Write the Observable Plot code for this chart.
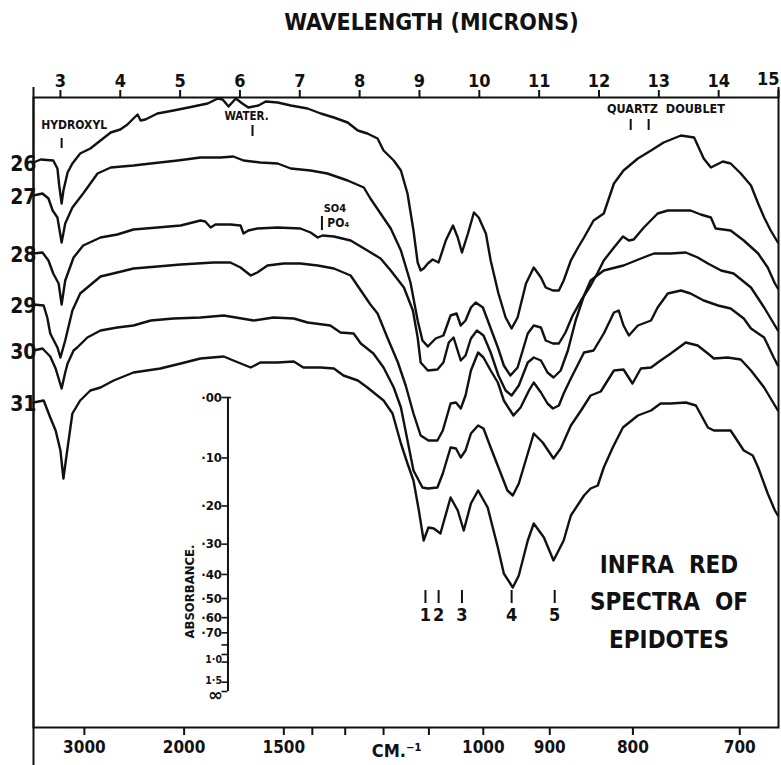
<!DOCTYPE html>
<html><head><meta charset="utf-8">
<script src="https://cdn.jsdelivr.net/npm/d3@7"></script>
<script src="https://cdn.jsdelivr.net/npm/@observablehq/plot@0.6"></script>
<style>
body{margin:0;background:#fff;}
#chart svg{display:block;}
</style></head><body><div id="chart"></div>
<script>
// ---- axis data ----
const wavelengthTicks = [3,4,5,6,7,8,9,10,11,12,13,14,15];
const wavenumberTicks = [3000,2000,1500,1400,1300,1200,1100,1000,900,800,700];
const wavenumberLabels = ["3000","2000","1500","","","","","1000","900","800","700"];
const absorbanceTicks = [0,0.1,0.2,0.3,0.4,0.5,0.6,0.7,0.8,0.9,1.0,1.5,Infinity];
const absorbanceLabels = ["·00","·10","·20","·30","·40","·50","·60","·70","","","1·0","1·5","∞"];
const bandPositions = [9.10,9.32,9.71,10.54,11.26];
const bandLabels = ["1","2","3","4","5"];
const spectrumIds = ["26","27","28","29","30","31"];

// ---- spectra: [wavelength (µm), trace height] ----
const spectrum26 = [[2.55,565],[2.67,568],[2.88,567],[2.95,559],[2.98,542],[3.02,524],[3.05,537],[3.12,555],[3.20,564],[3.33,574],[3.50,579],[3.67,587],[3.84,595],[4.00,598],[4.12,603],[4.22,609],[4.29,613],[4.34,607],[4.42,608],[4.62,614],[4.89,617],[5.22,621],[5.46,624],[5.63,629],[5.71,628],[5.81,621],[5.93,629],[6.04,624],[6.14,620],[6.31,622],[6.43,626],[6.63,625],[6.85,622],[7.13,619],[7.35,614],[7.57,610],[7.80,605],[7.97,597],[8.13,594],[8.30,589],[8.40,577],[8.57,567],[8.69,557],[8.80,534],[8.90,497],[8.97,465],[9.02,457],[9.07,459],[9.14,464],[9.22,468],[9.32,465],[9.44,487],[9.56,502],[9.64,490],[9.71,475],[9.81,494],[9.91,515],[9.99,510],[10.11,494],[10.19,467],[10.32,434],[10.44,410],[10.54,399],[10.64,410],[10.78,444],[10.91,460],[11.03,450],[11.11,440],[11.23,437],[11.33,437],[11.41,447],[11.53,467],[11.65,480],[11.75,490],[11.91,507],[12.08,514],[12.25,544],[12.41,557],[12.65,569],[12.87,577],[13.08,585],[13.37,592],[13.59,590],[13.75,569],[13.87,560],[14.07,566],[14.20,564],[14.37,554],[14.54,542],[14.66,524],[14.76,510],[14.87,497],[14.99,485]];
const spectrum27 = [[2.55,532],[2.70,534],[2.80,529],[2.87,517],[2.95,510],[3.02,485],[3.08,504],[3.20,520],[3.38,534],[3.62,554],[3.84,560],[4.22,562],[4.51,564],[4.96,567],[5.34,570],[5.68,570],[5.89,571],[6.06,567],[6.34,565],[6.63,564],[6.85,559],[7.18,557],[7.46,554],[7.80,547],[8.07,540],[8.18,529],[8.35,514],[8.52,499],[8.69,477],[8.85,445],[8.97,407],[9.05,387],[9.14,381],[9.27,389],[9.40,392],[9.52,412],[9.62,414],[9.69,402],[9.77,407],[9.86,420],[9.94,425],[10.06,420],[10.16,404],[10.31,380],[10.41,362],[10.52,352],[10.64,360],[10.81,394],[10.91,402],[11.03,400],[11.11,387],[11.23,384],[11.33,384],[11.44,395],[11.56,412],[11.70,427],[11.86,442],[11.98,455],[12.08,467],[12.25,480],[12.40,491],[12.50,487],[12.58,488],[12.75,500],[12.98,514],[13.15,517],[13.53,517],[13.70,513],[13.87,510],[13.95,499],[14.20,497],[14.42,487],[14.66,474],[14.82,460],[14.94,444],[14.99,439]];
const spectrum28 = [[2.55,474],[2.70,475],[2.80,467],[2.88,454],[2.97,444],[3.02,423],[3.08,447],[3.22,470],[3.38,482],[3.67,490],[3.95,493],[4.22,498],[4.62,500],[5.01,502],[5.34,507],[5.42,506],[5.51,500],[5.59,503],[5.84,503],[6.01,502],[6.06,494],[6.14,497],[6.29,499],[6.63,500],[7.01,499],[7.18,495],[7.30,490],[7.38,492],[7.57,491],[7.85,487],[8.13,477],[8.35,469],[8.52,457],[8.74,440],[8.89,417],[8.97,390],[9.02,365],[9.14,357],[9.30,358],[9.40,365],[9.49,385],[9.57,390],[9.69,367],[9.77,372],[9.86,389],[9.96,397],[10.07,392],[10.19,375],[10.32,352],[10.44,337],[10.54,332],[10.66,342],[10.81,365],[10.91,370],[11.03,367],[11.14,355],[11.24,350],[11.36,357],[11.48,377],[11.61,407],[11.75,432],[11.86,447],[12.08,457],[12.41,462],[12.70,469],[12.92,474],[13.20,474],[13.45,475],[13.65,470],[13.82,464],[14.04,457],[14.25,454],[14.54,440],[14.76,420],[14.92,404],[14.99,397]];
const spectrum29 = [[2.55,423],[2.72,422],[2.78,410],[2.83,394],[2.95,380],[3.00,370],[3.08,387],[3.20,417],[3.33,434],[3.67,451],[3.95,455],[4.22,459],[4.62,461],[5.01,463],[5.56,465],[5.84,465],[6.01,460],[6.18,452],[6.29,455],[6.46,462],[6.73,464],[7.01,464],[7.30,462],[7.57,459],[7.85,452],[8.02,437],[8.18,423],[8.30,414],[8.47,389],[8.64,365],[8.77,342],[8.90,314],[9.02,292],[9.15,287],[9.30,287],[9.39,297],[9.52,324],[9.61,325],[9.69,319],[9.77,332],[9.86,357],[9.98,375],[10.07,370],[10.19,357],[10.31,345],[10.41,327],[10.57,312],[10.69,320],[10.83,337],[10.91,345],[11.03,335],[11.14,324],[11.23,319],[11.33,322],[11.41,334],[11.53,349],[11.75,375],[11.91,377],[12.08,394],[12.25,415],[12.33,417],[12.41,402],[12.50,392],[12.65,402],[12.87,407],[12.98,420],[13.15,434],[13.37,437],[13.53,434],[13.75,427],[13.99,422],[14.20,419],[14.42,409],[14.54,399],[14.76,390],[14.92,370],[14.99,362]];
const spectrum30 = [[2.55,377],[2.70,379],[2.83,371],[2.92,359],[3.02,339],[3.08,355],[3.12,364],[3.22,377],[3.28,380],[3.45,390],[3.67,397],[3.95,400],[4.22,402],[4.51,407],[4.89,409],[5.34,410],[5.73,412],[6.23,407],[6.56,410],[6.90,409],[7.13,405],[7.51,402],[7.68,395],[7.90,394],[8.02,384],[8.23,374],[8.40,360],[8.57,340],[8.69,320],[8.90,257],[9.05,240],[9.14,239],[9.30,240],[9.39,254],[9.52,280],[9.61,279],[9.69,270],[9.77,277],[9.86,294],[9.98,302],[10.07,299],[10.19,280],[10.32,260],[10.47,237],[10.56,232],[10.66,244],[10.81,274],[10.91,294],[11.06,285],[11.24,269],[11.36,279],[11.53,302],[11.70,317],[11.86,332],[12.03,336],[12.25,357],[12.41,358],[12.56,344],[12.70,359],[12.87,360],[13.03,367],[13.20,374],[13.45,385],[13.65,382],[13.82,374],[13.92,369],[14.15,370],[14.37,368],[14.54,357],[14.76,340],[14.94,322],[14.99,317]];
const spectrum31 = [[2.55,325],[2.72,327],[2.83,310],[2.92,297],[3.00,277],[3.05,249],[3.12,280],[3.20,314],[3.33,327],[3.50,337],[3.67,340],[3.89,347],[4.22,355],[4.67,359],[5.01,364],[5.34,369],[5.73,371],[5.89,367],[6.18,360],[6.34,365],[6.63,365],[6.90,366],[7.06,360],[7.35,360],[7.57,359],[7.73,352],[7.97,347],[8.13,340],[8.40,327],[8.55,314],[8.69,284],[8.80,264],[8.90,247],[8.99,217],[9.07,187],[9.15,200],[9.24,199],[9.35,194],[9.52,230],[9.64,217],[9.74,197],[9.86,224],[9.98,237],[10.14,220],[10.31,180],[10.41,154],[10.56,140],[10.66,152],[10.81,187],[10.91,204],[11.08,190],[11.24,167],[11.41,187],[11.53,212],[11.75,232],[11.86,239],[11.98,242],[12.08,260],[12.23,280],[12.40,300],[12.65,312],[12.87,317],[13.03,324],[13.20,324],[13.45,325],[13.62,322],[13.82,300],[13.92,297],[14.20,297],[14.42,277],[14.57,272],[14.66,260],[14.82,234],[14.94,217],[14.99,212]];

const spectra = [spectrum26, spectrum27, spectrum28, spectrum29, spectrum30, spectrum31];
const rows = spectra.flatMap((pts, i) => pts.map(([w, v]) => ({id: spectrumIds[i], w, v})));
const starts = spectra.map((pts, i) => ({id: spectrumIds[i], w: pts[0][0], v: pts[0][1]}));

const xDomain = [2.55, 15.0];
const yDomain = [0, 630];

// inset absorbance scale (linear in transmittance)
const insetX = 5.8, insetBase = 36, insetSpan = 294;
const insetY = A => insetBase + insetSpan * Math.pow(10, -A);
const absRows = absorbanceTicks.map((a, i) => ({a, label: absorbanceLabels[i]}));
const absMain = absRows.filter(d => d.label && d.a < 1);
const absLow = absRows.filter(d => d.label && d.a >= 1 && d.a < 2);
const absInf = absRows.filter(d => d.a === Infinity);

const wnLabel = new Map(wavenumberTicks.map((n, i) => [n, wavenumberLabels[i]]));
const lastTick = wavelengthTicks[wavelengthTicks.length - 1];
const ff = "'DejaVu Sans Condensed','DejaVu Sans',sans-serif";

const chart = Plot.plot({
  width: 781, height: 765,
  marginTop: 97, marginBottom: 38, marginLeft: 33, marginRight: 3,
  x: {domain: xDomain, axis: null},
  y: {domain: yDomain, axis: null},
  style: {fontFamily: ff, fontWeight: "bold", color: "#111", background: "#fff", overflow: "visible"},
  marks: [
    Plot.frame({stroke: "#111", strokeWidth: 2}),
    Plot.ruleX([xDomain[0]], {y1: -38, y2: 640, stroke: "#111", strokeWidth: 2}),
    Plot.ruleX([xDomain[1]], {y1: 630, y2: 640, stroke: "#111", strokeWidth: 2}),
    Plot.axisX({anchor: "top", ticks: wavelengthTicks, tickSize: 8, tickPadding: 3, strokeWidth: 2,
      fontSize: 18, fontWeight: "bold", fontFamily: ff,
      tickFormat: d => (d === lastTick ? "" : String(d)), label: null}),
    Plot.text([lastTick], {x: d => d, y: 630, text: d => String(d), textAnchor: "end", dx: 1, dy: -18, fontSize: 18, fontWeight: "bold"}),
    Plot.axisX({anchor: "bottom", ticks: wavenumberTicks.map(n => 1e4 / n), tickSize: 8, tickPadding: 5, strokeWidth: 2,
      fontSize: 17, fontWeight: "bold", fontFamily: ff, dx: 4,
      tickFormat: d => wnLabel.get(Math.round(1e4 / d)) ?? "", label: null}),
    Plot.text(["CM.⁻¹"], {x: 8.62, y: -24, fontSize: 18, fontWeight: "bold"}),
    Plot.text(["WAVELENGTH (MICRONS)"], {x: 9.2, y: 705, fontSize: 23, fontWeight: "bold"}),

    // spectra
    Plot.line(rows, {x: "w", y: "v", z: "id", stroke: "#111", strokeWidth: 2.4, strokeLinejoin: "round", curve: "linear"}),
    Plot.text(starts, {x: "w", y: "v", text: "id", textAnchor: "end", dx: 3, dy: 2, fontSize: 21, fontWeight: 900}),

    // annotations
    Plot.text(["HYDROXYL"], {x: 3.23, y: 602, fontSize: 12}),
    Plot.ruleX([3.02], {y1: 579, y2: 589, strokeWidth: 2}),
    Plot.text(["WATER."], {x: 6.11, y: 611, fontSize: 11.5}),
    Plot.ruleX([6.21], {y1: 591, y2: 602, strokeWidth: 2}),
    Plot.text(["SO4"], {x: 7.40, y: 519, textAnchor: "start", fontSize: 11}),
    Plot.ruleX([7.37], {y1: 497, y2: 511, strokeWidth: 2}),
    Plot.text(["PO₄"], {x: 7.46, y: 504, textAnchor: "start", fontSize: 12}),
    Plot.text(["QUARTZ  DOUBLET"], {x: 13.12, y: 619, fontSize: 12.5}),
    Plot.ruleX([12.53, 12.83], {y1: 597, y2: 608, strokeWidth: 2}),

    // band markers
    Plot.ruleX(bandPositions, {y1: 124, y2: 137, strokeWidth: 2}),
    Plot.text(bandPositions, {x: d => d, y: 112, text: (d, i) => bandLabels[i], fontSize: 18, fontWeight: "bold"}),

    // inset absorbance axis
    Plot.ruleX([insetX], {y1: insetY(Infinity), y2: insetY(0), strokeWidth: 2}),
    Plot.ruleY(absRows, {y: d => insetY(d.a), x1: insetX - 0.1, x2: insetX, strokeWidth: 1.6}),
    Plot.ruleY([0], {y: d => insetY(d), x1: insetX, x2: insetX + 0.06, strokeWidth: 1.6}),
    Plot.text(absMain, {x: insetX, y: d => insetY(d.a), text: "label", textAnchor: "end", dx: -6, fontSize: 13}),
    Plot.text(absLow, {x: insetX, y: d => insetY(d.a), text: "label", textAnchor: "end", dx: -6, dy: -2, fontSize: 10.5}),
    Plot.text(absInf, {x: insetX, y: d => insetY(d.a), text: "label", textAnchor: "end", dx: -5, dy: 4, fontSize: 18, fontFamily: "'DejaVu Sans',sans-serif"}),
    Plot.text(["ABSORBANCE."], {x: 5.17, y: 136, rotate: -90, fontSize: 13}),

    // title block
    Plot.text(["INFRA  RED", "SPECTRA  OF", "EPIDOTES"], {x: 13.17, y: (d, i) => [162, 125, 87][i], fontSize: 24, fontWeight: "bold"})
  ]
});
document.getElementById("chart").append(chart);
</script></body></html>
